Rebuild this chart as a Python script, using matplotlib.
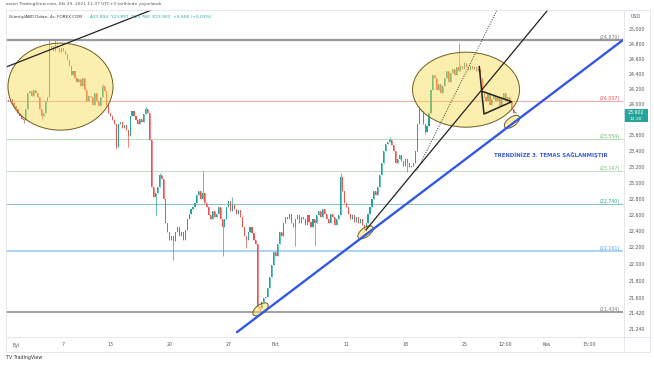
import numpy as np
import matplotlib
matplotlib.use("Agg")
import matplotlib.pyplot as plt
from matplotlib.patches import Ellipse, Rectangle
from matplotlib.transforms import blended_transform_factory, ScaledTranslation

# ---------------- data ----------------
first_bar = -5          # first bar index (4h bars, 6 per trading day, day 0 = 1 Sep)
bars_per_day = 6
first_open = 24.10
closes = [
    24.07, 24.05, 24.08, 24.02, 23.98,
    23.95, 23.90, 23.85, 23.82, 23.80, 23.95,
    24.15, 24.18, 24.12, 24.20, 24.15, 24.10,
    23.95, 23.86, 23.90, 24.05, 24.10, 24.75,
    24.78, 24.72, 24.80, 24.75, 24.70, 24.76,
    24.72, 24.68, 24.60, 24.52, 24.40, 24.45,
    24.36, 24.30, 24.34, 24.25, 24.35, 24.20,
    24.05, 24.12, 24.10, 24.00, 24.15, 24.05,
    23.98, 24.10, 24.25, 24.18, 24.00, 23.90,
    23.85, 23.80, 23.75, 23.45, 23.75, 23.78,
    23.70, 23.74, 23.68, 23.60, 23.85, 23.92,
    23.85, 23.80, 23.75, 23.82, 23.78, 23.88,
    23.95, 23.90, 23.55, 22.95, 22.82, 22.88,
    22.95, 23.10, 23.05, 22.80, 22.50, 22.40,
    22.30, 22.35, 22.28, 22.40, 22.45, 22.35,
    22.40, 22.30, 22.42, 22.55, 22.62, 22.68,
    22.70, 22.75, 22.85, 22.90, 22.80, 22.88,
    22.75, 22.70, 22.60, 22.55, 22.65, 22.58,
    22.62, 22.70, 22.55, 22.45, 22.55, 22.70,
    22.78, 22.65, 22.72, 22.68, 22.62, 22.66,
    22.58, 22.45, 22.35, 22.30, 22.40, 22.45,
    22.38, 22.30, 22.25, 21.50, 21.48, 21.55,
    21.60, 21.62, 21.72, 21.85, 22.00, 22.15,
    22.10, 22.25, 22.40, 22.35, 22.50, 22.58,
    22.55, 22.62, 22.50, 22.45, 22.55, 22.60,
    22.50, 22.58, 22.55, 22.48, 22.60, 22.52,
    22.45, 22.55, 22.50, 22.60, 22.65, 22.58,
    22.68, 22.62, 22.55, 22.50, 22.62, 22.58,
    22.48, 22.55, 22.60, 23.08, 22.90, 22.75,
    22.70, 22.62, 22.55, 22.60, 22.52, 22.58,
    22.50, 22.55, 22.48, 22.45, 22.50, 22.62,
    22.70, 22.80, 22.90, 22.85, 22.95, 23.10,
    23.25, 23.40, 23.50, 23.52, 23.55, 23.48,
    23.40, 23.25, 23.30, 23.35, 23.28, 23.22,
    23.30, 23.25, 23.20, 23.22, 23.25, 23.40,
    23.75, 23.95, 23.92, 23.75, 23.65, 23.72,
    23.90, 24.20, 24.40, 24.35, 24.20, 24.28,
    24.15, 24.25, 24.35, 24.45, 24.30, 24.42,
    24.48, 24.40, 24.50, 24.45, 24.52, 24.48,
    24.55, 24.50, 24.46, 24.52, 24.48, 24.50,
    24.45, 24.48, 24.35, 24.18, 24.10, 24.05,
    24.15, 24.00, 24.08, 24.12, 24.05, 24.10,
    23.98, 24.08, 24.15, 24.05, 24.10, 24.05,
    23.95, 23.894, 23.902,
]
high_spikes = {17: 24.87, 20: 24.86, 44: 24.28, 66: 23.97, 73: 23.12, 95: 23.15,
               110: 22.82, 165: 23.12, 190: 23.58, 205: 23.98, 225: 24.82, 228: 24.57}
low_spikes = {4: 23.76, 13: 23.82, 51: 23.43, 57: 23.45, 71: 22.60, 80: 22.05,
              105: 22.10, 117: 22.20, 124: 21.434, 142: 22.22, 152: 22.22,
              177: 22.42, 199: 23.14, 208: 23.62}

levels = [24.870, 24.057, 23.554, 23.147, 22.740, 22.161, 21.434]
level_labels = ["(24.870)", "(24.057)", "(23.554)", "(23.147)", "(22.740)", "(22.161)", "(21.434)"]

price_ticks = [25.0, 24.8, 24.6, 24.4, 24.2, 24.0, 23.6, 23.4, 23.2, 23.0,
               22.8, 22.6, 22.4, 22.2, 22.0, 21.8, 21.6, 21.42, 21.24]
price_tick_labels = ["25.000", "24.800", "24.600", "24.400", "24.200", "24.000", "23.600",
                     "23.400", "23.200", "23.000", "22.800", "22.600", "22.400", "22.200",
                     "22.000", "21.800", "21.600", "21.420", "21.240"]
time_ticks = [0, 4, 8, 13, 18, 22, 28, 33, 38, 41.5, 45, 48.6]
time_labels = ["Eyl", "7", "13", "20", "27", "Ekt", "11", "18", "25", "12:00", "Kas", "15:00"]

last_price = "23.902"
countdown = "12:30"

# drawing anchors (day, price)
blue_trend = [(18.73, 21.205), (51.44, 24.864)]
black_trend = [(29.66, 22.42), (45.2, 25.30)]
dotted_trend = [(33.98, 23.16), (40.85, 25.30)]
top_left_trend = [(-0.85, 24.50), (11.9, 25.30)]
pennant = [(39.26, 24.505), (39.66, 23.881), (42.01, 24.042), (39.60, 24.173)]

# ---------------- layout ----------------
W, H = 654, 366
PL, PR, PT, PB = 6, 623, 10, 337
X0, XS = 16.0, 11.8          # pixel of day 0, pixels per day
Y25, B = 30.0, 1835.0        # log price scale

fig = plt.figure(figsize=(W / 100, H / 100), dpi=100)
fig.patch.set_facecolor("white")
ax = fig.add_axes([PL / W, (H - PB) / H, (PR - PL) / W, (PB - PT) / H])
ax.set_yscale("log")
xlim = ((PL - X0) / XS, (PR - X0) / XS)
ylim = (25 * np.exp(-(PB - Y25) / B), 25 * np.exp((Y25 - PT) / B))
ax.set_xlim(*xlim)
ax.set_ylim(*ylim)
ax.axis("off")

ov = fig.add_axes([0, 0, 1, 1])
ov.set_xlim(0, W)
ov.set_ylim(H, 0)
ov.axis("off")
ov.patch.set_alpha(0)

# horizontal levels
lcolors = ["#9a9a9a", "#f3a6a6", "#b5dcb5", "#c3dcc3", "#86c2c0", "#a9d3f5", "#a0a0a0"]
lwidths = [1.6, 0.7, 0.7, 0.7, 0.7, 1.4, 1.4]
tcolors = ["#787b86", "#ef5350", "#66bb6a", "#66bb6a", "#26a69a", "#42a5f5", "#787b86"]
for p, col, lw in zip(levels, lcolors, lwidths):
    ax.axhline(p, color=col, lw=lw, zorder=1)

# candles
c = np.array(closes)
n = len(c)
days = (np.arange(n) + first_bar) / bars_per_day
opens = np.r_[first_open, c[:-1]]
highs = np.maximum(opens, c)
lows = np.minimum(opens, c)
for k, v in high_spikes.items():
    highs[k - first_bar] = max(highs[k - first_bar], v)
for k, v in low_spikes.items():
    lows[k - first_bar] = min(lows[k - first_bar], v)
cols = np.where(c >= opens, "#26a69a", "#ef5350")
ax.vlines(days, lows, highs, colors=cols, lw=0.5, zorder=2)
ax.bar(days, np.maximum(np.abs(c - opens), 0.012), bottom=np.minimum(opens, c),
       width=0.095, color=cols, linewidth=0, zorder=3)


def px_ellipse(day, price, wpx, hpx, angle=0):
    tr = fig.dpi_scale_trans + ScaledTranslation(day, price, ax.transData)
    e = Ellipse((0, 0), wpx / 100, hpx / 100, angle=angle, transform=tr,
                facecolor=(0.98, 0.86, 0.30, 0.45), edgecolor="#6b5d1e", lw=0.7, zorder=4)
    ax.add_patch(e)


px_ellipse(3.77, 24.24, 105, 87)
px_ellipse(38.14, 24.20, 107, 75)
px_ellipse(20.72, 21.47, 18, 9, 37)
px_ellipse(29.62, 22.39, 18, 9, 37)
px_ellipse(42.03, 23.78, 18, 9, 37)

# trend lines
ax.plot(*zip(*blue_trend), color="#3358e6", lw=1.7, zorder=5, solid_capstyle="round")
ax.plot(*zip(*black_trend), color="#222222", lw=0.9, zorder=5)
ax.plot(*zip(*dotted_trend), color="#333333", lw=0.7, ls=(0, (1, 1.5)), zorder=5)
ax.plot(*zip(*top_left_trend), color="#222222", lw=0.9, zorder=5)
ax.plot(*zip(*pennant), color="#222222", lw=1.1, zorder=5)
ax.set_xlim(*xlim)
ax.set_ylim(*ylim)

# level labels
bl = blended_transform_factory(ov.transData, ax.transData)
for p, lab, tc in zip(levels, level_labels, tcolors):
    ov.text(620, p, lab, transform=bl, ha="right", va="bottom", fontsize=3.4, color=tc)

# price axis labels
for p, lab in zip(price_ticks, price_tick_labels):
    ov.text(637, p, lab, transform=bl, ha="center", va="center", fontsize=3.4, color="#555555")
ov.text(636, 17, "USD", ha="center", va="center", fontsize=3.4, color="#555555")

# current price box
py = ov.transData.inverted().transform(ax.transData.transform((0, 23.902)))[1]
ov.add_patch(Rectangle((623.5, py - 3.5), 24.5, 13.5, facecolor="#26a69a", edgecolor="none"))
ov.text(635.7, py, last_price, ha="center", va="center", fontsize=3.4, color="white")
ov.text(635.7, py + 6.5, countdown, ha="center", va="center", fontsize=3.2, color="white")

# time axis labels
bt = blended_transform_factory(ax.transData, ov.transData)
for d, lab in zip(time_ticks, time_labels):
    ov.text(d, 345, lab, transform=bt, ha="center", va="center", fontsize=3.4, color="#555555")

# frame
fc = "#e0e3eb"
ov.plot([PL, 650, 650, PL, PL], [PT, PT, 352, 352, PT], color=fc, lw=0.6)
ov.plot([PR + 0.5, PR + 0.5], [PT, 352], color=fc, lw=0.6)
ov.plot([PL, 650], [PB, PB], color=fc, lw=0.6)

# annotation
ov.text(551, 155, "TRENDİNİZE 3. TEMAS SAĞLANMIŞTIR", ha="center", va="center",
        fontsize=3.9, fontweight="bold", color="#3b5bdb")

# headers
ov.text(6, 4.5, "asrnn TradingView.com, Eki 29, 2021 11:37 UTC+3 tarihinde yayınlandı",
        ha="left", va="center", fontsize=3.2, color="#555555")
ov.text(9, 17, "Gümüş/ABD Doları, 4s, FOREX.COM", ha="left", va="center",
        fontsize=3.0, color="#333333")
ov.text(90, 17, "A23.894  Y23.897  D23.780  K23.902  +0.008 (+0.03%)", ha="left",
        va="center", fontsize=3.2, color="#26a69a")
ov.text(6, 358, "TV TradingView", ha="left", va="center", fontsize=3.4,
        color="#333333")

fig.savefig("out.png", dpi=100, facecolor="white")
